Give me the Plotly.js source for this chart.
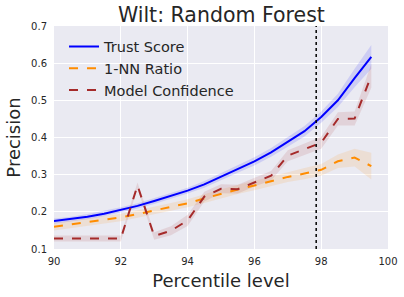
<!DOCTYPE html>
<html><head><meta charset="utf-8">
<script src="https://cdn.plot.ly/plotly-3.0.1.min.js"></script>
<style>html,body{margin:0;padding:0;background:#fff}#plot{width:404px;height:297px}</style>
</head><body><div id="plot"></div>
<script>
const percentiles = [90,90.5,91,91.5,92,92.5,93,93.5,94,94.5,95,95.5,96,96.5,97,97.5,98,98.5,99,99.5];
const trustMean = [0.175,0.180,0.187,0.195,0.205,0.216,0.229,0.242,0.257,0.274,0.295,0.315,0.336,0.360,0.388,0.417,0.455,0.500,0.560,0.617];
const trustLo   = [0.168,0.173,0.180,0.188,0.198,0.209,0.221,0.234,0.249,0.265,0.286,0.305,0.325,0.348,0.375,0.403,0.440,0.482,0.535,0.585];
const trustHi   = [0.182,0.187,0.194,0.202,0.212,0.223,0.237,0.250,0.265,0.283,0.304,0.325,0.347,0.372,0.401,0.431,0.470,0.518,0.585,0.649];
const nnMean = [0.160,0.166,0.172,0.178,0.185,0.194,0.204,0.213,0.223,0.236,0.249,0.260,0.271,0.283,0.294,0.303,0.313,0.336,0.346,0.323];
const nnLo   = [0.150,0.156,0.162,0.168,0.175,0.184,0.193,0.202,0.212,0.224,0.237,0.248,0.258,0.270,0.280,0.288,0.297,0.318,0.322,0.287];
const nnHi   = [0.170,0.176,0.182,0.188,0.195,0.204,0.215,0.224,0.234,0.248,0.261,0.272,0.284,0.296,0.308,0.318,0.329,0.354,0.370,0.359];
const mcMean = [0.128,0.128,0.128,0.128,0.128,0.271,0.135,0.149,0.177,0.241,0.262,0.261,0.280,0.297,0.351,0.368,0.386,0.450,0.451,0.566];
const mcLo   = [0.120,0.120,0.120,0.120,0.120,0.263,0.125,0.137,0.162,0.228,0.250,0.249,0.268,0.284,0.336,0.353,0.370,0.432,0.432,0.534];
const mcHi   = [0.136,0.136,0.136,0.136,0.136,0.279,0.145,0.161,0.192,0.254,0.274,0.273,0.292,0.310,0.366,0.383,0.402,0.468,0.470,0.598];
const cutoffX = [97.85, 97.85];
const cutoffY = [0.1, 0.7];
const xTicks = [90,92,94,96,98,100];
const yTicks = [0.1,0.2,0.3,0.4,0.5,0.6,0.7];

function band(lo, hi, color) {
  return [
    {x: percentiles, y: lo, mode:'lines', line:{width:0, color:color}, showlegend:false, hoverinfo:'skip'},
    {x: percentiles, y: hi, mode:'lines', line:{width:0, color:color}, fill:'tonexty', fillcolor:color, showlegend:false, hoverinfo:'skip'}
  ];
}
const traces = [].concat(
  band(trustLo, trustHi, 'rgba(0,0,255,0.12)'),
  band(nnLo, nnHi, 'rgba(255,140,0,0.12)'),
  band(mcLo, mcHi, 'rgba(165,42,42,0.12)'),
  [
    {x: percentiles, y: trustMean, mode:'lines', name:'Trust Score', line:{color:'#0000FF', width:2}},
    {x: percentiles, y: nnMean, mode:'lines', name:'1-NN Ratio', line:{color:'#FF8C00', width:2, dash:'dash'}},
    {x: percentiles, y: mcMean, mode:'lines', name:'Model Confidence', line:{color:'#A52A2A', width:2, dash:'dash'}},
    {x: cutoffX, y: cutoffY, mode:'lines', showlegend:false, line:{color:'#000', width:1.5, dash:'dot'}}
  ]
);
const layout = {
  width:404, height:297,
  margin:{l:54, r:16, t:26, b:48},
  paper_bgcolor:'#fff', plot_bgcolor:'#EAEAF2',
  font:{family:'DejaVu Sans', color:'#262626'},
  title:{text:'Wilt: Random Forest', font:{size:20.5, color:'#262626'}, x:0.548, xanchor:'center', yref:'container', y:0.95, yanchor:'middle'},
  xaxis:{range:[90,100], tickvals:xTicks, ticktext:xTicks.map(String), gridcolor:'#fff', gridwidth:1, zeroline:false, showline:false, ticks:'outside', ticklen:3, tickcolor:'rgba(0,0,0,0)', tickfont:{size:10}, title:{text:'Percentile level', font:{size:18}, standoff:8}, automargin:false},
  yaxis:{range:[0.1,0.7], tickvals:yTicks, ticktext:yTicks.map(v=>v.toFixed(1)), gridcolor:'#fff', gridwidth:1, zeroline:false, showline:false, ticks:'outside', ticklen:4, tickcolor:'rgba(0,0,0,0)', tickfont:{size:10}, title:{text:'Precision', font:{size:18}, standoff:5}, automargin:false},
  legend:{x:0.03, y:0.98, xanchor:'left', yanchor:'top', bgcolor:'rgba(0,0,0,0)', font:{size:14.5}, traceorder:'normal', tracegroupgap:0},
  showlegend:true
};
Plotly.newPlot('plot', traces, layout, {staticPlot:true, displayModeBar:false});
</script>
</body></html>
